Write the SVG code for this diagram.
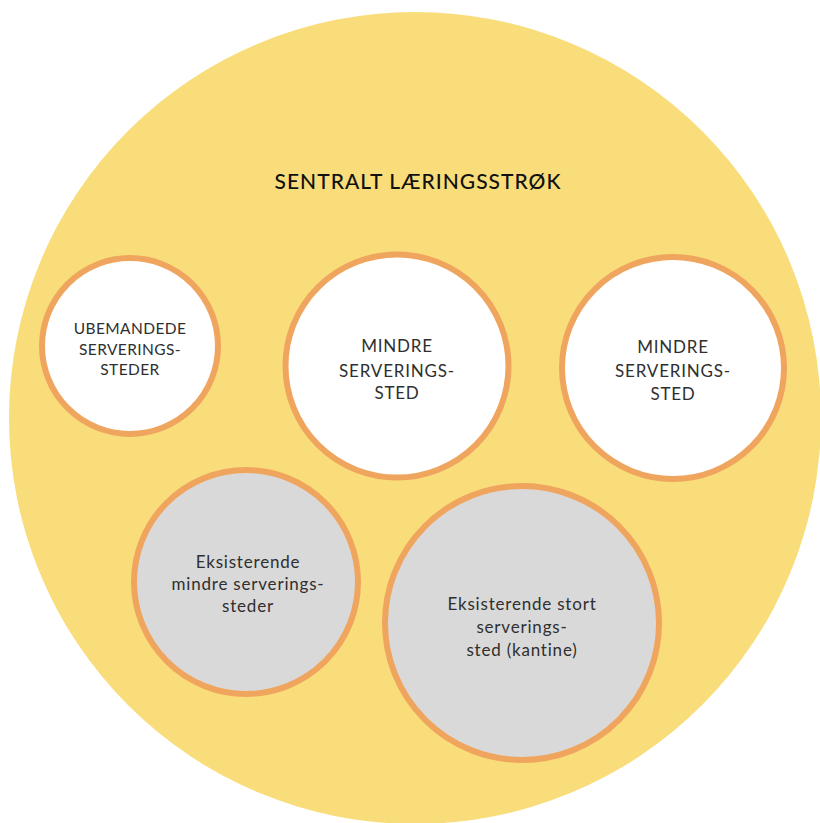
<svg xmlns="http://www.w3.org/2000/svg" width="820" height="823" viewBox="0 0 820 823">
<style>
.node{stroke:#F0A55E;stroke-width:6}
.w{fill:#FFFFFF}
.g{fill:#D9D9D9}
text{font-family:Lato,"Liberation Sans",sans-serif;fill:#2f2f2f;text-anchor:middle}
.cap{font-size:17px;letter-spacing:0.8px}
.sm{font-size:15.5px;letter-spacing:0.4px}
.low{font-size:17px;letter-spacing:0.8px}
</style>
<rect width="820" height="823" fill="#FFFFFF"/>
<g id="area">
<circle cx="415" cy="418" r="406" fill="#F9DD7A"/>
<text x="418" y="189" style="font-size:21px;font-weight:500;letter-spacing:1px;fill:#111">SENTRALT LÆRINGSSTRØK</text>
</g>
<g id="ubemandede">
<circle class="node w" cx="130" cy="346" r="88"/>
<text class="sm" x="130" y="334">UBEMANDEDE</text>
<text class="sm" x="130" y="355">SERVERINGS-</text>
<text class="sm" x="130" y="375">STEDER</text>
</g>
<g id="mindre1">
<circle class="node w" cx="397" cy="366" r="111.5"/>
<text class="cap" x="397" y="352">MINDRE</text>
<text class="cap" x="397" y="377">SERVERINGS-</text>
<text class="cap" x="397" y="399">STED</text>
</g>
<g id="mindre2">
<circle class="node w" cx="673" cy="368" r="111"/>
<text class="cap" x="673" y="353">MINDRE</text>
<text class="cap" x="673" y="377">SERVERINGS-</text>
<text class="cap" x="673" y="400">STED</text>
</g>
<g id="eksisterende-mindre">
<circle class="node g" cx="246" cy="582" r="112"/>
<text class="low" x="248" y="568">Eksisterende</text>
<text class="low" x="248" y="590">mindre serverings-</text>
<text class="low" x="248" y="612">steder</text>
</g>
<g id="eksisterende-stort">
<circle class="node g" cx="522" cy="623" r="137"/>
<text class="low" x="522" y="610">Eksisterende stort</text>
<text class="low" x="522" y="633">serverings-</text>
<text class="low" x="522" y="656">sted (kantine)</text>
</g>
<g id="connectors"/>
</svg>
